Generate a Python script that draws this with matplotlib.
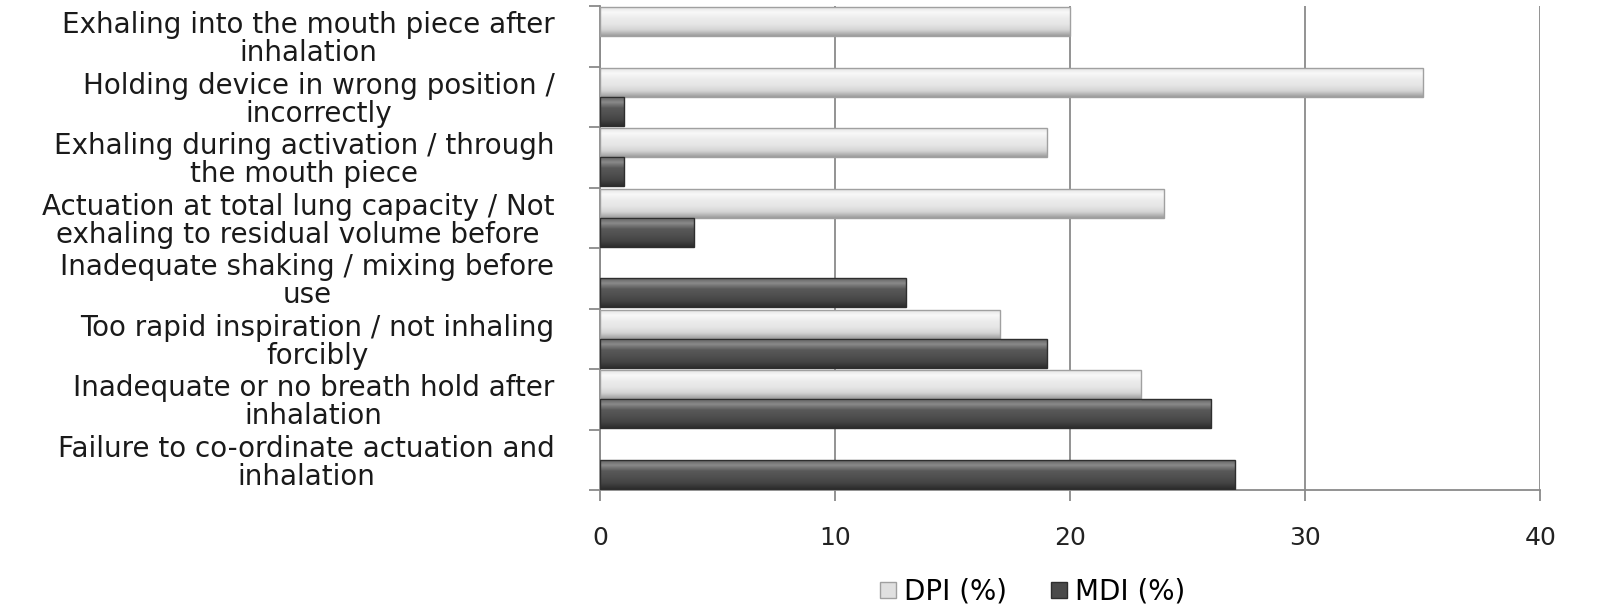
import numpy as np
import matplotlib
matplotlib.use("Agg")
import matplotlib.pyplot as plt
from matplotlib.colors import LinearSegmentedColormap
from matplotlib.patches import Patch

plt.rcParams['font.family'] = ['DejaVu Sans']

categories = [
    "Exhaling into the mouth piece after\ninhalation",
    "Holding device in wrong position /\nincorrectly",
    "Exhaling during activation / through\nthe mouth piece",
    "Actuation at total lung capacity / Not\nexhaling to residual volume before",
    "Inadequate shaking / mixing before\nuse",
    "Too rapid inspiration / not inhaling\nforcibly",
    "Inadequate or no breath hold after\ninhalation",
    "Failure to co-ordinate actuation and\ninhalation",
]
dpi_vals = [20, 35, 19, 24, 0, 17, 23, 0]
mdi_vals = [0, 1, 1, 4, 13, 19, 26, 27]
xticks = [0, 10, 20, 30, 40]

fig = plt.figure(figsize=(16.18, 6.11), dpi=100)
ax = fig.add_axes([0.371, 0.198, 0.581, 0.792])

n = len(categories)
y = np.arange(n)[::-1]  # first category at top
h = 0.48

dpi_bars = ax.barh(y + h / 2, dpi_vals, height=h, color='#e4e4e4', edgecolor='#a0a0a0',
                   linewidth=1.0, zorder=3)
mdi_bars = ax.barh(y - h / 2, mdi_vals, height=h, color='#4e4e4e', edgecolor='#2e2e2e',
                   linewidth=1.0, zorder=3)

# glossy gradient fill, bottom to top
dpi_cmap = LinearSegmentedColormap.from_list(
    'dpi', ['#9c9c9c', '#d4d4d4', '#e6e6e6', '#ececec', '#f8f8f8', '#e2e2e2'])
mdi_cmap = LinearSegmentedColormap.from_list(
    'mdi', ['#2c2c2c', '#444444', '#505050', '#585858', '#8a8a8a', '#5a5a5a'])
grad = np.linspace(0, 1, 64).reshape(-1, 1)
for bars, cmap in [(dpi_bars, dpi_cmap), (mdi_bars, mdi_cmap)]:
    for p in bars.patches:
        if p.get_width() == 0:
            p.set_visible(False)
            continue
        x0, y0 = p.get_x(), p.get_y()
        im = ax.imshow(grad, cmap=cmap, aspect='auto', origin='lower',
                       extent=[x0, x0 + p.get_width(), y0, y0 + p.get_height()],
                       zorder=3.5, interpolation='bilinear')
        im.set_clip_path(p)
        p.set_facecolor('none')
        p.set_zorder(4)

ax.set_xlim(0, 40)
ax.set_ylim(-0.5, n - 0.5)
ax.set_xticks(xticks)
ax.set_xticklabels([str(t) for t in xticks], fontsize=18, color='#222222')
ax.xaxis.grid(True, color='#8a8a8a', linewidth=1.3, zorder=0)

ax.set_yticks(y)
ax.set_yticklabels(categories, fontsize=20, color='#1a1a1a', linespacing=1.0)
for lab in ax.get_yticklabels():
    lab.set_multialignment('center')
ax.tick_params(axis='y', length=0, pad=33)
ax.set_yticks(np.arange(n + 1) - 0.5, minor=True)
ax.tick_params(axis='y', which='minor', length=8, color='#8a8a8a', width=1.3)
ax.tick_params(axis='x', length=8, color='#8a8a8a', width=1.3, pad=18)

for s in ['top', 'right']:
    ax.spines[s].set_visible(False)
for s in ['left', 'bottom']:
    ax.spines[s].set_color('#8a8a8a')
    ax.spines[s].set_linewidth(1.3)

handles = [Patch(facecolor='#e0e0e0', edgecolor='#a0a0a0', label='DPI (%)'),
           Patch(facecolor='#4a4a4a', edgecolor='#2e2e2e', label='MDI (%)')]
ax.legend(handles=handles, loc='upper center', bbox_to_anchor=(0.46, -0.13), ncol=2,
          frameon=False, fontsize=20, handlelength=0.55, handleheight=0.55,
          columnspacing=1.6, handletextpad=0.3)

fig.savefig('out.png', dpi=100)
